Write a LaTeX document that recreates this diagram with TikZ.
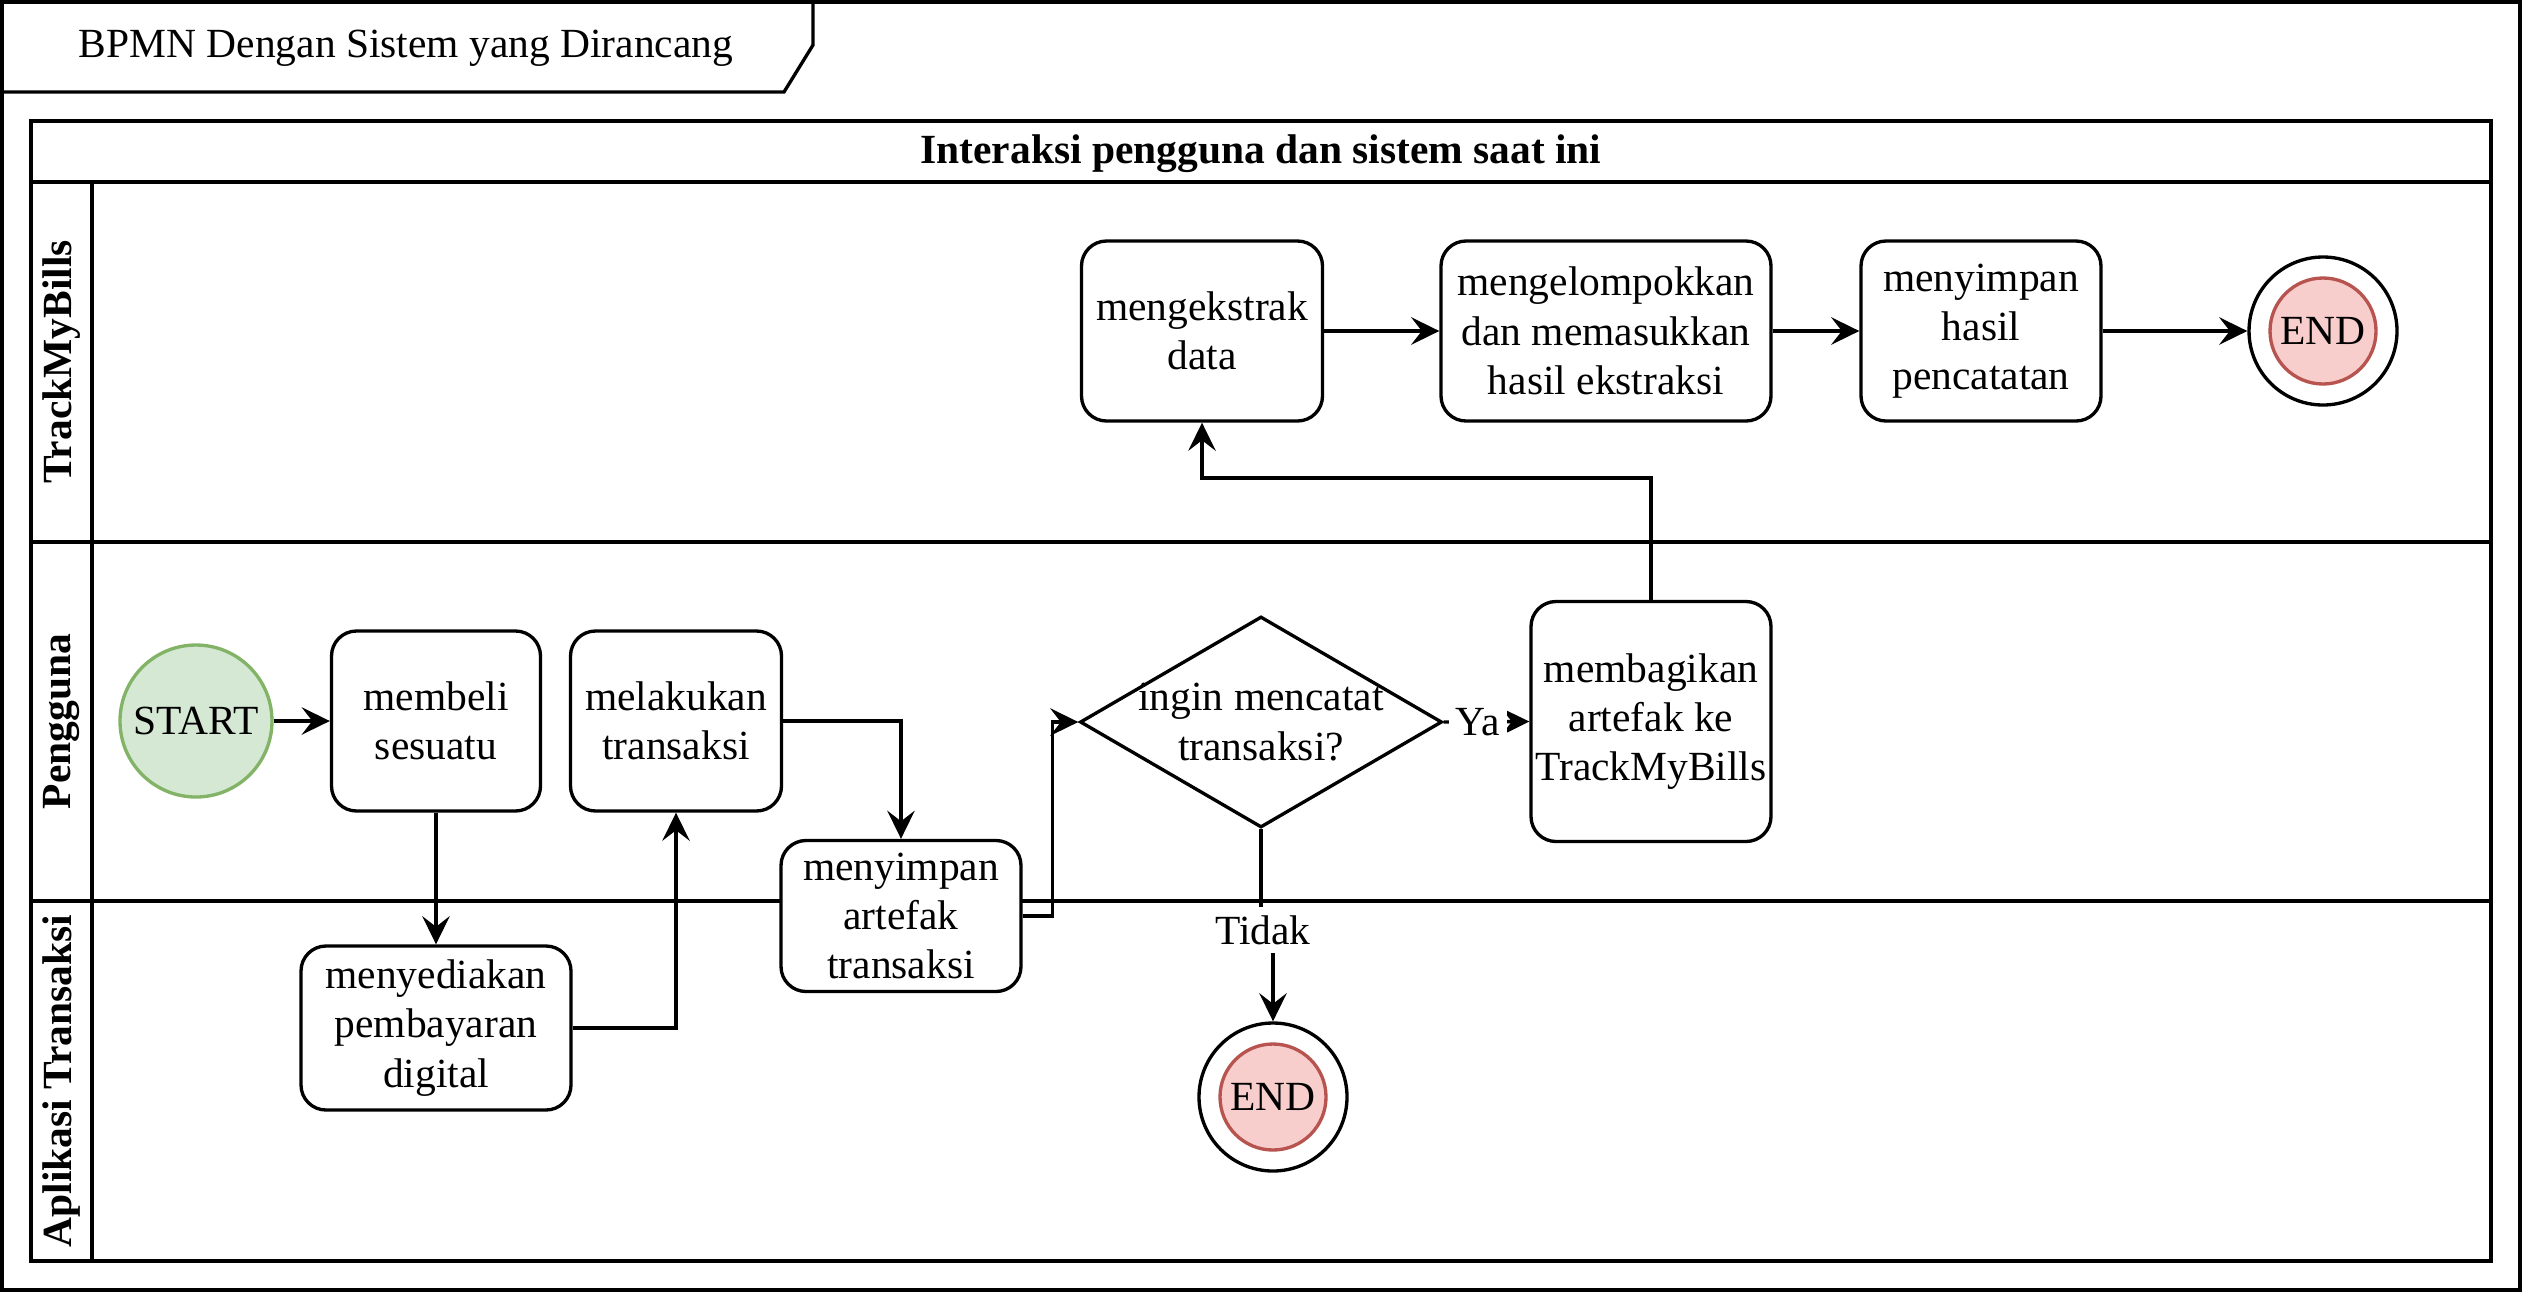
\documentclass[tikz,border=0pt]{standalone}
\usepackage{fontspec}
\setmainfont{Liberation Serif}
\usepackage{tikz}
\usetikzlibrary{arrows.meta,positioning,shapes.geometric}
\definecolor{startfill}{HTML}{D5E8D4}
\definecolor{startline}{HTML}{82B366}
\definecolor{endfill}{HTML}{F8CECC}
\definecolor{endline}{HTML}{B85450}
\newcommand{\bpmnfont}{\fontsize{11.8}{14}\selectfont}

\begin{document}
\begin{tikzpicture}[
  line width=0.95pt,
  task/.style={draw,rounded corners=0.25cm,align=center,font=\bpmnfont,inner sep=1pt,fill=white},
  decision/.style={draw,diamond,minimum width=3.62cm,minimum height=2.11cm,inner sep=0pt,fill=white},
  startevent/.style={draw=startline,fill=startfill,circle,minimum size=1.52cm,inner sep=0pt,font=\bpmnfont},
  endouter/.style={draw,circle,minimum size=1.48cm,inner sep=0pt,fill=white},
  endinner/.style={draw=endline,fill=endfill,circle,minimum size=1.06cm,inner sep=0pt,font=\bpmnfont},
  lanelabel/.style={rotate=90,font=\bpmnfont\bfseries},
  arrow/.style={-{Stealth[length=8pt,width=7.8pt,inset=3pt]}},
  note/.style={font=\bpmnfont,fill=white,inner sep=2pt}
]
\useasboundingbox (0,0) rectangle (25.23,-12.93);
% frame and title tab
\draw (0.02,-0.02) rectangle (25.20,-12.90);
\draw (8.13,-0.02) -- (8.13,-0.45) -- (7.84,-0.92) -- (0.02,-0.92);
\node[font=\bpmnfont] (title) at (4.06,-0.48) {BPMN Dengan Sistem yang Dirancang};
% pool and lanes
\draw (0.31,-1.21) rectangle (24.91,-12.61);
\draw (0.31,-1.82) -- (24.91,-1.82);
\draw (0.92,-1.82) -- (0.92,-12.61);
\draw (0.31,-5.42) -- (24.91,-5.42);
\draw (0.31,-9.01) -- (24.91,-9.01);
\node[font=\bpmnfont\bfseries] (pool) at (12.61,-1.54) {Interaksi pengguna dan sistem saat ini};
\node[lanelabel] (lanetrack) at (0.615,-3.62) {TrackMyBills};
\node[lanelabel] (lanepengguna) at (0.615,-7.215) {Pengguna};
\node[lanelabel] (laneaplikasi) at (0.615,-10.81) {Aplikasi Transaksi};
% pengguna
\node[startevent] (start) at (1.96,-7.21) {START};
\node[task,minimum width=2.09cm,minimum height=1.80cm] (membeli) at (4.36,-7.21) {membeli\\sesuatu};
\node[task,minimum width=2.11cm,minimum height=1.80cm] (lakukan) at (6.76,-7.21) {melakukan\\transaksi};
\node[decision,label={[font=\bpmnfont,align=center]center:ingin mencatat\\transaksi?}] (decision) at (12.61,-7.22) {};
\node[task,minimum width=2.40cm,minimum height=2.40cm] (bagikan) at (16.51,-7.215) {membagikan\\artefak ke\\TrackMyBills};
% aplikasi transaksi
\node[task,minimum width=2.70cm,minimum height=1.64cm] (sediakan) at (4.36,-10.28) {menyediakan\\pembayaran\\digital};
\node[task,minimum width=2.40cm,minimum height=1.51cm] (simpanart) at (9.01,-9.16) {menyimpan\\artefak\\transaksi};
\node[endouter] (endbawah) at (12.73,-10.97) {};
\node[endinner] (endbawahin) at (endbawah) {END};
% trackmybills
\node[task,minimum width=2.41cm,minimum height=1.80cm] (ekstrak) at (12.02,-3.31) {mengekstrak\\data};
\node[task,minimum width=3.30cm,minimum height=1.80cm] (kelompok) at (16.06,-3.31) {mengelompokkan\\dan memasukkan\\hasil ekstraksi};
\node[task,minimum width=2.40cm,minimum height=1.80cm] (simpanhasil) at (19.81,-3.31) {menyimpan\\hasil\\pencatatan};
\node[endouter] (endatas) at (23.23,-3.31) {};
\node[endinner] (endatasin) at (endatas) {END};
% flows
\draw[arrow] (start) -- (membeli);
\draw[arrow] (membeli.south) -- (sediakan.north);
\draw[arrow] (sediakan.east) -| (lakukan.south);
\draw[arrow] (lakukan.east) -| (simpanart.north);
\draw[arrow] (simpanart.east) -- ++(0.30,0) |- (decision.west);
\draw[arrow] (decision.east) -- node[note,pos=0.40]{Ya} (bagikan.west);
\node[note] (tidak) at (12.63,-9.30) {Tidak};
\draw (decision.south) -- (decision.south |- tidak.north);
\draw[arrow] (tidak.south -| endbawah.north) -- (endbawah.north);
\draw[arrow] (bagikan.north) -- ++(0,1.22) -| (ekstrak.south);
\draw[arrow] (ekstrak) -- (kelompok);
\draw[arrow] (kelompok) -- (simpanhasil);
\draw[arrow] (simpanhasil) -- (endatas);
\end{tikzpicture}
\end{document}
